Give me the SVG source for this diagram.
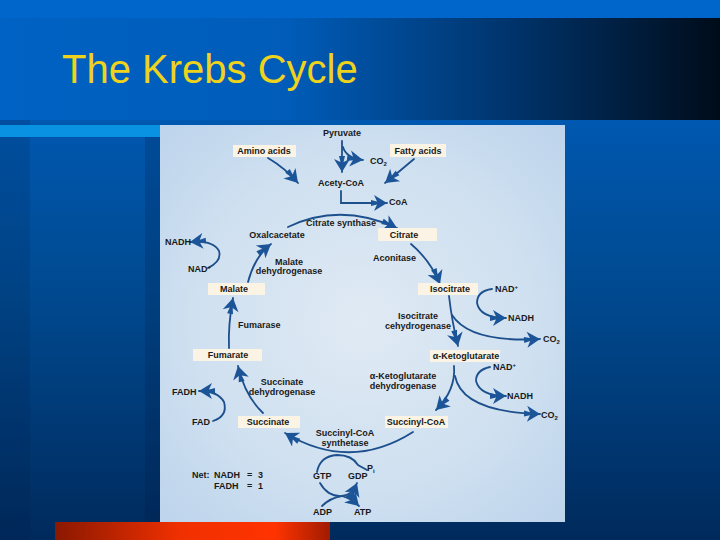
<svg xmlns="http://www.w3.org/2000/svg" width="720" height="540" viewBox="0 0 720 540">
<defs>
<linearGradient id="body" x1="0" y1="0" x2="0" y2="1">
<stop offset="0" stop-color="#0062c6"/>
<stop offset="0.55" stop-color="#00498f"/>
<stop offset="1" stop-color="#002a5c"/>
</linearGradient>
<linearGradient id="title" x1="0" y1="0" x2="1" y2="0">
<stop offset="0" stop-color="#0062c4"/>
<stop offset="0.4" stop-color="#005cb8"/>
<stop offset="0.7" stop-color="#00356e"/>
<stop offset="1" stop-color="#000c1a"/>
</linearGradient>
<linearGradient id="red" x1="0" y1="0" x2="1" y2="0">
<stop offset="0" stop-color="#8a1800"/>
<stop offset="0.45" stop-color="#f03000"/>
<stop offset="0.8" stop-color="#ff3300"/>
<stop offset="1" stop-color="#a01c00"/>
</linearGradient>
<radialGradient id="paper" cx="0.5" cy="0.5" r="0.7">
<stop offset="0" stop-color="#e0eaf4"/>
<stop offset="0.6" stop-color="#cfe0f0"/>
<stop offset="1" stop-color="#bdd4ec"/>
</radialGradient>
<marker id="ah" viewBox="-17 -9 18 18" refX="0" refY="0" markerWidth="18" markerHeight="18" markerUnits="userSpaceOnUse" orient="auto">
<path d="M0,0 L-13,-8 L-10,-1.5 L-16,-3 L-16,3 L-10,1.5 L-13,8 Z" fill="#1c5597"/>
</marker>
<style>
.t{font-family:"Liberation Sans",Arial,sans-serif;font-size:9px;font-weight:bold;fill:#1a1a1a}
.m{text-anchor:middle}
.box{fill:#fbf3e3}
.c{fill:none;stroke:#1d4f8c;stroke-width:1.8;stroke-linecap:round}
.a{marker-end:url(#ah)}
</style>
</defs>
<!-- background -->
<rect x="0" y="0" width="720" height="540" fill="url(#body)"/>
<rect x="0" y="0" width="30" height="540" fill="#001a40" opacity="0.15"/>
<rect x="145" y="125" width="15" height="415" fill="#001a40" opacity="0.2"/>
<rect x="0" y="0" width="720" height="18" fill="#0066cc"/>
<rect x="0" y="18" width="720" height="102" fill="url(#title)"/>
<rect x="0" y="125" width="160" height="12" fill="#0a92e2"/>
<rect x="55" y="522" width="275" height="18" fill="url(#red)"/>
<text x="62" y="83" font-family="Liberation Sans, Arial, sans-serif" font-size="40" fill="#efd21c">The Krebs Cycle</text>
<!-- diagram panel -->
<rect x="160" y="125" width="405" height="397" fill="url(#paper)"/>
<!-- connectors -->
<g id="connectors">
<path class="c a" d="M342,141 L342,172"/>
<path class="c a" d="M343,147 Q346,158 363,160"/>
<path class="c a" d="M268,158 Q285,168 298,183"/>
<path class="c a" d="M414,159 Q400,171 385,183"/>
<path class="c a" d="M341,191 L341,203 L387,203"/>
<path class="c a" d="M288,227 Q340,202 397,228"/>
<path class="c a" d="M411,244 Q430,260 440,284"/>
<path class="c a" d="M449,296 Q452,322 458,346"/>
<path class="c a" d="M452,315 Q470,343 540,339"/>
<path class="c a" d="M492,289 Q477,291 477,303 Q480,318 506,318"/>
<path class="c a" d="M454,366 Q456,390 436,410"/>
<path class="c a" d="M455,376 Q462,412 540,414"/>
<path class="c a" d="M490,367 Q476,370 476,381 Q480,396 506,396"/>
<path class="c a" d="M413,432 Q350,472 285,433"/>
<path class="c a" d="M263,413 Q245,396 238,366"/>
<path class="c a" d="M213,421 Q228,416 224,402 Q218,391 199,391"/>
<path class="c a" d="M229,348 Q228,325 233,298"/>
<path class="c a" d="M248,282 Q255,256 271,244"/>
<path class="c a" d="M208,268 Q222,261 219,251 Q213,240 190,242"/>
<path class="c" d="M317,472 Q320,456 337,455 Q352,455 358,465 L367,470"/>
<path class="c a" d="M320,483 Q328,497 342,496 Q352,495 357,483"/>
<path class="c" d="M322,506 Q330,498 342,496"/>
<path class="c a" d="M342,496 Q352,499 359,506"/>
</g>
<!-- nodes -->
<g id="pyruvate"><text class="t m" x="342" y="136">Pyruvate</text></g>
<g id="amino-acids"><rect class="box" x="233" y="145" width="63" height="12"/><text class="t m" x="264" y="154">Amino acids</text></g>
<g id="fatty-acids"><rect class="box" x="390" y="144" width="56" height="13"/><text class="t m" x="418" y="154">Fatty acids</text></g>
<g id="co2-top"><text class="t" x="370" y="164">CO<tspan font-size="6" dy="2">2</tspan></text></g>
<g id="acetyl-coa"><text class="t m" x="341" y="186">Acety-CoA</text></g>
<g id="coa"><text class="t" x="389" y="205">CoA</text></g>
<g id="citrate-synthase"><text class="t m" x="341" y="226">Citrate synthase</text></g>
<g id="oxaloacetate"><text class="t m" x="277" y="238">Oxalcacetate</text></g>
<g id="citrate"><rect class="box" x="378" y="228" width="59" height="13"/><text class="t m" x="404" y="238">Citrate</text></g>
<g id="nadh-left"><text class="t" x="165" y="245">NADH</text></g>
<g id="nad-left"><text class="t" x="188" y="272">NAD<tspan font-size="6" dy="-3">+</tspan></text></g>
<g id="malate-dh"><text class="t m" x="289" y="265">Malate</text><text class="t m" x="289" y="274">dehydrogenase</text></g>
<g id="aconitase"><text class="t" x="373" y="261">Aconitase</text></g>
<g id="malate"><rect class="box" x="208" y="283" width="57" height="12"/><text class="t m" x="234" y="292">Malate</text></g>
<g id="isocitrate"><rect class="box" x="418" y="283" width="60" height="12"/><text class="t m" x="450" y="292">Isocitrate</text></g>
<g id="nad-1"><text class="t" x="495" y="292">NAD<tspan font-size="6" dy="-3">+</tspan></text></g>
<g id="nadh-1"><text class="t" x="508" y="321">NADH</text></g>
<g id="fumarase"><text class="t" x="238" y="328">Fumarase</text></g>
<g id="isocitrate-dh"><text class="t m" x="418" y="319">Isocitrate</text><text class="t m" x="418" y="329">cehydrogenase</text></g>
<g id="co2-1"><text class="t" x="543" y="342">CO<tspan font-size="6" dy="2">2</tspan></text></g>
<g id="fumarate"><rect class="box" x="193" y="349" width="69" height="12"/><text class="t m" x="228" y="358">Fumarate</text></g>
<g id="a-ketoglutarate"><rect class="box" x="430" y="350" width="70" height="12"/><text class="t m" x="466" y="359">α-Ketoglutarate</text></g>
<g id="nad-2"><text class="t" x="493" y="370">NAD<tspan font-size="6" dy="-3">+</tspan></text></g>
<g id="akg-dh"><text class="t m" x="403" y="379">α-Ketoglutarate</text><text class="t m" x="403" y="389">dehydrogenase</text></g>
<g id="succinate-dh"><text class="t m" x="282" y="385">Succinate</text><text class="t m" x="282" y="395">dehydrogenase</text></g>
<g id="fadh"><text class="t" x="172" y="395">FADH</text></g>
<g id="nadh-2"><text class="t" x="507" y="399">NADH</text></g>
<g id="co2-2"><text class="t" x="541" y="418">CO<tspan font-size="6" dy="2">2</tspan></text></g>
<g id="fad"><text class="t" x="192" y="425">FAD</text></g>
<g id="succinate"><rect class="box" x="238" y="416" width="62" height="12"/><text class="t m" x="268" y="425">Succinate</text></g>
<g id="succinyl-coa"><rect class="box" x="385" y="416" width="63" height="12"/><text class="t m" x="416" y="425">Succinyl-CoA</text></g>
<g id="succinyl-coa-synthetase"><text class="t m" x="345" y="436">Succinyl-CoA</text><text class="t m" x="345" y="446">synthetase</text></g>
<g id="net"><text class="t" x="192" y="478">Net:<tspan x="214">NADH</tspan><tspan x="247">=</tspan><tspan x="258">3</tspan></text><text class="t" x="214" y="489">FADH<tspan x="247">=</tspan><tspan x="258">1</tspan></text></g>
<g id="gtp"><text class="t" x="313" y="479">GTP</text></g>
<g id="gdp"><text class="t" x="348" y="479">GDP</text></g>
<g id="pi"><text class="t" x="367" y="471">P<tspan font-size="6" dy="2">i</tspan></text></g>
<g id="adp"><text class="t" x="313" y="515">ADP</text></g>
<g id="atp"><text class="t" x="354" y="515">ATP</text></g>
</svg>
